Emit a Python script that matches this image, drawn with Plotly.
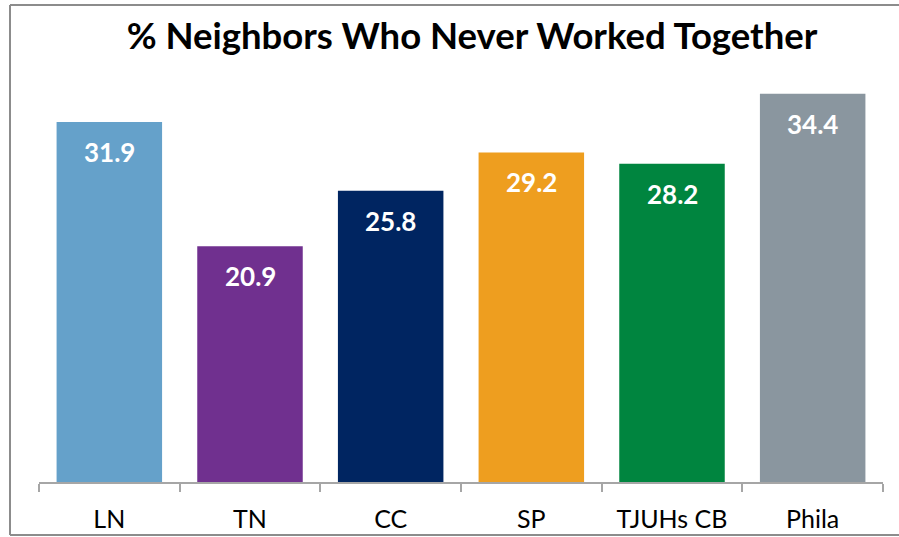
import plotly.graph_objects as go

categories = ["LN", "TN", "CC", "SP", "TJUHs CB", "Phila"]
values = [31.9, 20.9, 25.8, 29.2, 28.2, 34.4]
colors = ["#65A1CA", "#70308F", "#002561", "#EE9E1F", "#00853F", "#8A969F"]
title = "% Neighbors Who Never Worked Together"

W, H = 899, 537
L, R, T, B = 39, 16, 87, 55
pw, ph = W - L - R, H - T - B

fig = go.Figure()
fig.add_trace(go.Bar(x=categories, y=values, marker=dict(color=colors, line=dict(width=0)),
                     hoverinfo="x+y"))

for c, v in zip(categories, values):
    fig.add_annotation(x=c, y=v, text=f"<b>{v:.1f}</b>", showarrow=False, yanchor="middle",
                       yshift=-30, font=dict(family="Lato", size=26, color="white"))

def px_x(x):
    return (x - L) / pw

def px_y(y):
    return (H - B - y) / ph

border = dict(color="#8C8C8C", width=2)
# left, top, bottom edges of the chart frame (right edge lies outside the picture)
fig.add_shape(type="line", xref="paper", yref="paper",
              x0=px_x(10), x1=px_x(10), y0=px_y(535), y1=px_y(5), line=border)
fig.add_shape(type="line", xref="paper", yref="paper",
              x0=px_x(10), x1=px_x(899), y0=px_y(5), y1=px_y(5), line=border)
fig.add_shape(type="line", xref="paper", yref="paper",
              x0=px_x(10), x1=px_x(899), y0=px_y(535), y1=px_y(535), line=border)

fig.update_layout(
    width=W, height=H,
    margin=dict(l=L, r=R, t=T, b=B, autoexpand=False),
    plot_bgcolor="white", paper_bgcolor="white",
    bargap=0.25,
    showlegend=False,
    title=dict(text=f"<b>{title}</b>", x=472 / W, xanchor="center", y=1 - 36 / H, yanchor="middle",
               font=dict(family="Lato", size=36.5, color="black")),
    xaxis=dict(type="category", showline=True, linecolor="#A6A6A6", linewidth=1.5,
               ticks="outside", tickson="boundaries", ticklen=8, tickcolor="#A6A6A6", tickwidth=1.5,
               tickfont=dict(family="Lato", size=25, color="black"), showgrid=False,
               ticklabelstandoff=14, automargin=False),
    yaxis=dict(range=[0, 35], visible=False, showgrid=False, automargin=False),
)

fig.write_html("out.html", config={"displayModeBar": False},
               post_script="document.body.style.margin='0';document.body.style.overflow='hidden';")
